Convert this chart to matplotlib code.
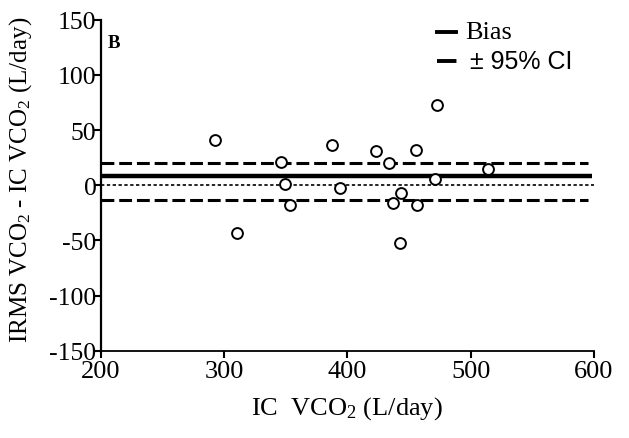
import matplotlib
matplotlib.use("Agg")
import matplotlib.pyplot as plt
from matplotlib.lines import Line2D

ic_vco2 = [292.9, 310.3, 346.2, 349.7, 353.2, 387.5, 393.8, 423.0, 433.5, 436.8,
           443.7, 442.4, 455.7, 456.7, 472.9, 471.3, 514.3]
diff = [41.1, -43.5, 20.9, 1.2, -17.5, 36.3, -2.1, 30.8, 20.2, -15.7,
        -7.3, -52.3, 32.0, -17.5, 72.3, 5.4, 14.8]
bias = 7.9
ci_upper = 20.2
ci_lower = -13.0
xticks = [200, 300, 400, 500, 600]
yticks = [-150, -100, -50, 0, 50, 100, 150]

serif = "Liberation Serif"
sans = "Liberation Sans"
plt.rcParams["font.family"] = [serif, "DejaVu Serif"]
plt.rcParams["mathtext.fontset"] = "custom"
plt.rcParams["mathtext.rm"] = serif
plt.rcParams["mathtext.it"] = serif + ":italic"
plt.rcParams["mathtext.bf"] = serif + ":bold"

fig = plt.figure(figsize=(6.29, 4.39), dpi=100)
ax = fig.add_axes([100.7/629, (439-351.7)/439, (594-100.7)/629, (351.7-20.7)/439])

ax.plot([200, 598], [bias, bias], color="black", lw=3.2, solid_capstyle="butt")
ax.plot([200, 595], [ci_upper, ci_upper], color="black", lw=2.2, linestyle=(0, (4.2, 1.6)))
ax.plot([200, 595], [ci_lower, ci_lower], color="black", lw=2.2, linestyle=(0, (4.2, 1.6)))
ax.plot([200, 600], [0, 0], color="black", lw=1.2, linestyle=(0, (2, 1.5)))
ax.plot(ic_vco2, diff, linestyle="none", marker="o", markersize=7.8,
        markerfacecolor="white", markeredgecolor="black", markeredgewidth=1.4, zorder=5)

ax.set_xlim(200, 600)
ax.set_ylim(-150, 150)
ax.set_xticks(xticks)
ax.set_yticks(yticks)
ax.set_xticklabels([str(v) for v in xticks], fontfamily=serif, fontsize=19)
ax.set_yticklabels([str(v) for v in yticks], fontfamily=serif, fontsize=18.5)
ax.tick_params(axis="both", which="major", length=5, width=1.5, direction="out")
ax.tick_params(axis="x", pad=1.5)
ax.tick_params(axis="y", pad=-2)
for s in ["top", "right"]:
    ax.spines[s].set_visible(False)
ax.spines["left"].set_linewidth(1.6)
ax.spines["bottom"].set_linewidth(1.3)

ax.set_xlabel("IC  VCO$_2$ (L/day)", fontfamily=serif, fontsize=19, labelpad=9)
ax.set_ylabel("IRMS VCO$_2$ - IC VCO$_2$ (L/day)", fontfamily=serif, fontsize=18)
ax.yaxis.set_label_coords(-0.135, 0.52)

ax.text(108/629, 1-35/439, "B", transform=fig.transFigure, fontfamily=serif, fontsize=13.5,
        fontweight="bold", va="top", ha="left")

# legend
fig.add_artist(Line2D([437/629, 456/629], [1-33/439, 1-33/439], color="black", lw=2.8))
fig.add_artist(Line2D([437/629, 458/629], [1-62/439, 1-62/439], color="black", lw=2.8,
                      linestyle=(0, (5, 2.5, 1.5, 2.5))))
fig.text(465/629, 1-33/439, "Bias", fontfamily=serif, fontsize=19, va="center", ha="left")
fig.text(470/629, 1-62/439, "\u00b1 95% CI", fontfamily=sans, fontsize=18, va="center", ha="left")

fig.savefig("out.png", dpi=100)
